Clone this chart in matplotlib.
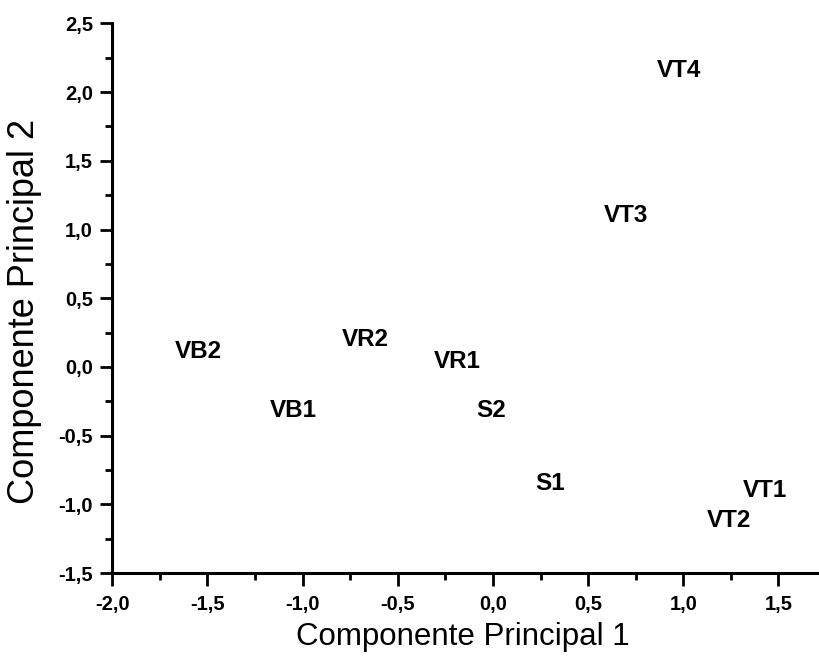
import matplotlib
matplotlib.use("Agg")
import matplotlib.pyplot as plt
from matplotlib.ticker import MultipleLocator, FuncFormatter

plt.rcParams['font.family'] = ['Liberation Sans', 'DejaVu Sans']

# scores on the first two principal components
labels = ['VT4', 'VT3', 'VB2', 'VR2', 'VR1', 'VB1', 'S2', 'S1', 'VT1', 'VT2']
pc1 = [0.98, 0.70, -1.55, -0.67, -0.19, -1.05, -0.01, 0.30, 1.43, 1.24]
pc2 = [2.16, 1.10, 0.11, 0.20, 0.04, -0.32, -0.32, -0.85, -0.90, -1.12]

fig = plt.figure(figsize=(8.2, 6.65), dpi=100)
ax = fig.add_axes([0.137, 0.138, 0.861, 0.827])

for name, x, y in zip(labels, pc1, pc2):
    ax.text(x, y, name, ha='center', va='center', fontsize=17.5, fontweight='bold')

ax.set_xlim(-2.0, 1.71)
ax.set_ylim(-1.5, 2.5)

ax.spines['top'].set_visible(False)
ax.spines['right'].set_visible(False)
ax.spines['left'].set_linewidth(2.2)
ax.spines['bottom'].set_linewidth(2.2)

ax.xaxis.set_major_locator(MultipleLocator(0.5))
ax.xaxis.set_minor_locator(MultipleLocator(0.25))
ax.yaxis.set_major_locator(MultipleLocator(0.5))
ax.yaxis.set_minor_locator(MultipleLocator(0.25))

comma = FuncFormatter(lambda v, p: f"{v:.1f}".replace('.', ','))
ax.xaxis.set_major_formatter(comma)
ax.yaxis.set_major_formatter(comma)

ax.tick_params(which='major', direction='out', length=9, width=2, labelsize=14.5)
ax.tick_params(which='minor', direction='out', length=5, width=2)
ax.tick_params(axis='x', which='major', pad=7)
ax.tick_params(axis='y', which='major', pad=5)
for t in ax.get_xticklabels() + ax.get_yticklabels():
    t.set_fontweight('bold')

ax.set_xlabel('Componente Principal 1', fontsize=22.5)
ax.set_ylabel('Componente Principal 2', fontsize=26)
ax.xaxis.set_label_coords(0.496, -0.089)
ax.yaxis.set_label_coords(-0.1, 0.476)

fig.savefig('out.png', dpi=100)
